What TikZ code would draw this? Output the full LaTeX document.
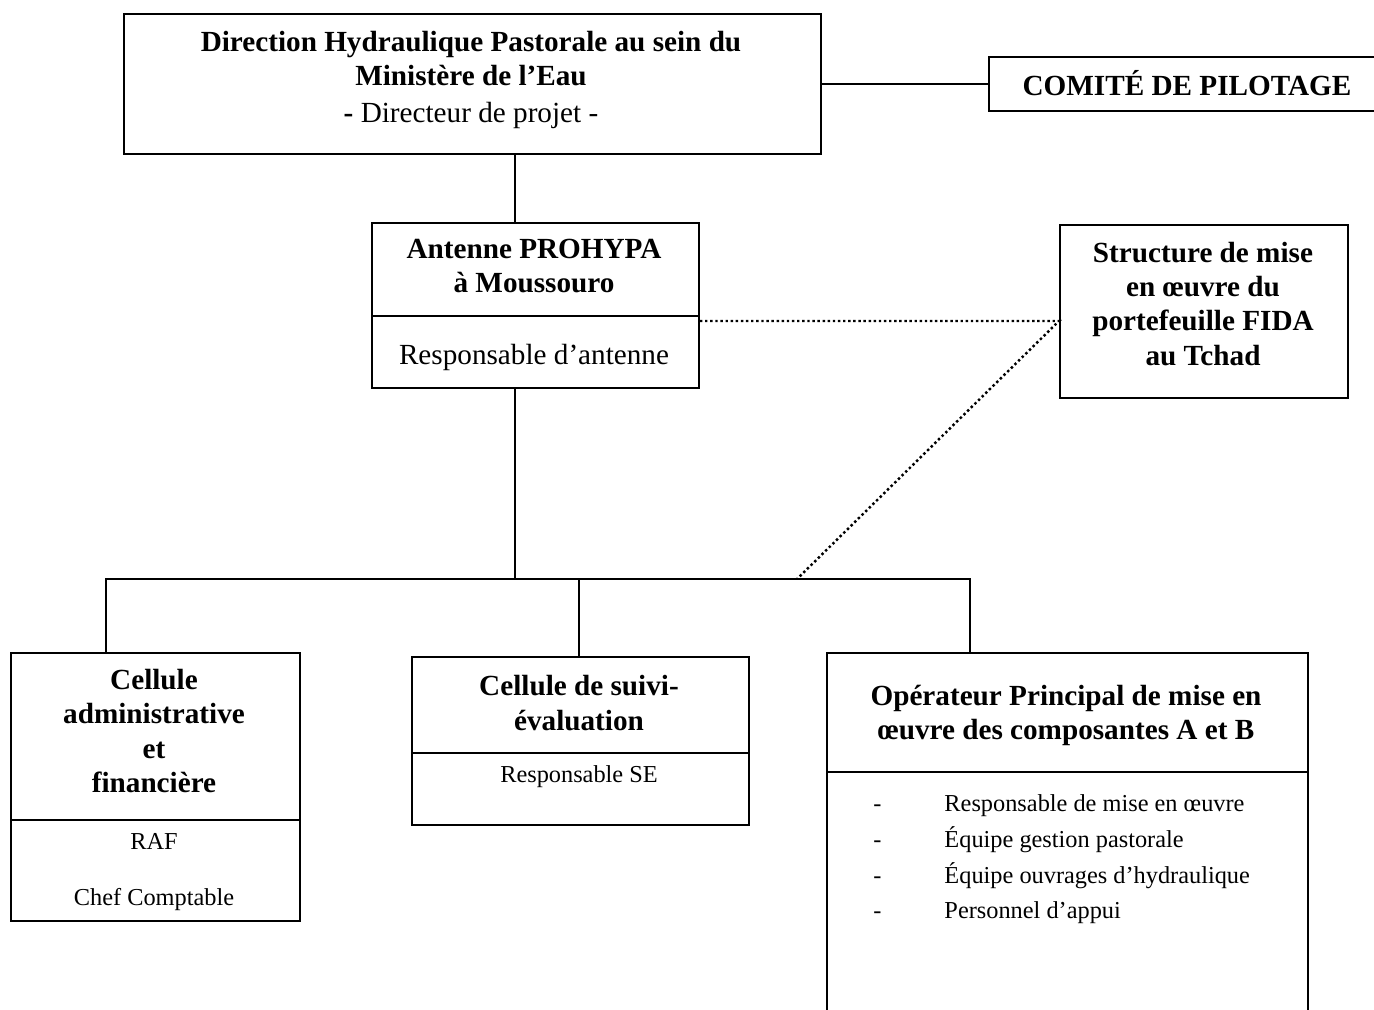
\documentclass[tikz,border=0pt]{standalone}
\usepackage{fontspec}
\setmainfont{Liberation Serif}
\usepackage{tikz}
\usetikzlibrary{positioning, calc}

\newlength\pxu
\setlength\pxu{0.411pt}

\begin{document}
\begin{tikzpicture}[
  x=\pxu, y=-\pxu,
  frame/.style   = {draw, line width=0.8pt, anchor=north west, inner sep=0pt},
  size/.style 2 args = {minimum width=#1*\pxu, minimum height=#2*\pxu},
  head/.style    = {align=center, font=\fontsize{12}{14}\selectfont\bfseries},
  body/.style    = {align=center, font=\fontsize{12}{14}\selectfont},
  small/.style   = {align=center, font=\fontsize{10}{11.5}\selectfont},
  item/.style    = {anchor=west, inner sep=0pt, text height=7pt, text depth=2pt,
                    font=\fontsize{10}{12}\selectfont},
  link/.style    = {line width=0.8pt},
  dots/.style    = {line width=1pt, dash pattern=on 1pt off 1.1pt},
]
\useasboundingbox (0,0) rectangle (1374,1009);
\clip (0,0) rectangle (1374,1009);

% ── Direction and steering committee ──────────────────────────────────────────
\node[frame, size={697}{140}] (dir) at (123,13) {};
\node[head] (dirt) at (471,80) {Direction Hydraulique Pastorale au sein du\\
  Ministère de l’Eau\\[1.5pt] \textmd{\textbf{-} Directeur de projet -}};

\node[frame, size={398}{54}] (com) at (988,56) {};
\node[head] (comt) at (1187,83) {COMITÉ DE PILOTAGE};

% ── Antenna ───────────────────────────────────────────────────────────────────
\node[frame, size={327}{93}] (ant)  at (371,222) {};
\node[frame, size={327}{72}] (antb) at (371,315) {};
\node[head] (antt) at (534,266) {Antenne PROHYPA\\à Moussouro};
\node[body] (antr) at (534,357) {Responsable d’antenne};

% ── IFAD portfolio structure ──────────────────────────────────────────────────
\node[frame, size={288}{173}] (fida) at (1059,224) {};
\node[head] (fidat) at (1203,304) {Structure de mise\\en œuvre du\\
  portefeuille FIDA\\au Tchad};

% ── Cells ─────────────────────────────────────────────────────────────────────
\node[frame, size={289}{167}] (caf)  at (10,652) {};
\node[frame, size={289}{101}] (cafb) at (10,819) {};
\node[head]  (caft) at (154,731) {Cellule\\administrative\\et\\financière};
\node[small] (cafr) at (154,872) {RAF\\[11.5pt]Chef Comptable};

\node[frame, size={337}{96}] (sui)  at (411,656) {};
\node[frame, size={337}{72}] (suib) at (411,752) {};
\node[head]  (suit) at (579,703) {Cellule de suivi-\\évaluation};
\node[small] (suir) at (579,777) {Responsable SE};

% ── Main operator ─────────────────────────────────────────────────────────────
\node[frame, size={481}{119}] (op)  at (826,652) {};
\node[frame, size={481}{250}] (opb) at (826,771) {};
\node[head] (opt) at (1066,715) {Opérateur Principal de mise en\\
  œuvre des composantes A et B};
\node[item] (op1) at (873,805) {\makebox[71\pxu][l]{-}Responsable de mise en œuvre};
\node[item] (op2) at (873,841) {\makebox[71\pxu][l]{-}Équipe gestion pastorale};
\node[item] (op3) at (873,877) {\makebox[71\pxu][l]{-}Équipe ouvrages d’hydraulique};
\node[item] (op4) at (873,912) {\makebox[71\pxu][l]{-}Personnel d’appui};

% ── Tree links ────────────────────────────────────────────────────────────────
\coordinate (trunk)   at (515,0);
\coordinate (dropA)   at (106,579);
\coordinate (dropB)   at (579,579);
\coordinate (dropC)   at (970,579);
\coordinate (busjoin) at (797,579);

\draw[link] (dir.east) -- (dir.east -| com.west);
\draw[link] (trunk |- dir.south) -- (trunk |- ant.north);
\draw[link] (trunk |- antb.south) -- (trunk |- dropA);
\draw[link] (dropA |- caf.north) -- (dropA) -- (dropC) -- (dropC |- op.north);
\draw[link] (dropB) -- (dropB |- sui.north);

% ── Dotted links to the portfolio structure ───────────────────────────────────
\coordinate (fidajoin) at ($(antb.north -| fida.west)+(0,6)$);
\draw[dots] (antb.east |- fidajoin) -- (fidajoin) -- (busjoin);

\end{tikzpicture}
\end{document}
